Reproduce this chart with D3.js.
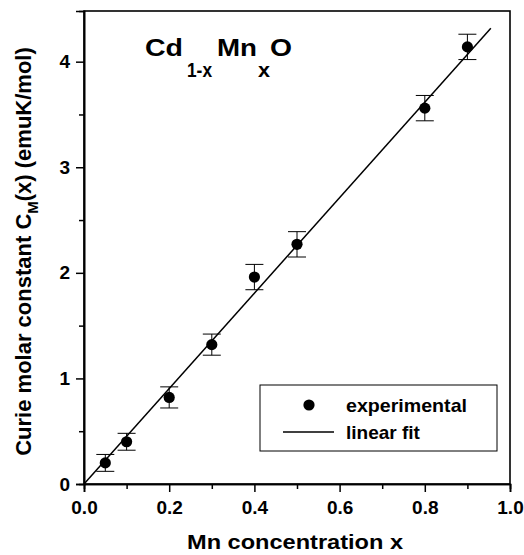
<!DOCTYPE html>
<html>
<head>
<meta charset="utf-8">
<script src="https://cdn.jsdelivr.net/npm/d3@7"></script>
<style>
  body { margin: 0; background: #fff; }
  text { font-family: "Liberation Sans", Arial, sans-serif; font-weight: bold; fill: #000; }
</style>
</head>
<body>
<div id="chart"></div>
<script>
// data
const xVals = [0.05, 0.1, 0.2, 0.3, 0.4, 0.5, 0.8, 0.9];
const cmVals = [0.20, 0.40, 0.82, 1.32, 1.96, 2.27, 3.56, 4.14];
const cmErr = [0.08, 0.08, 0.10, 0.10, 0.12, 0.12, 0.12, 0.12];
const fitX = [0, 0.955];
const fitSlope = 4.52;
const xTicks = [0, 0.2, 0.4, 0.6, 0.8, 1.0];
const yTicks = [0, 1, 2, 3, 4];

const W = 524, H = 555;
const margin = { top: 11, right: 14, bottom: 71, left: 84 };

const svg = d3.select("#chart").append("svg")
  .attr("width", W).attr("height", H);

const x = d3.scaleLinear().domain([0, 1]).range([margin.left, W - margin.right]);
const y = d3.scaleLinear().domain([0, 4.48]).range([H - margin.bottom, margin.top]);

const g = svg.append("g");

// frame
g.append("rect")
  .attr("x", x(0)).attr("y", y(4.48))
  .attr("width", x(1) - x(0)).attr("height", y(0) - y(4.48))
  .attr("fill", "none").attr("stroke", "#000").attr("stroke-width", 1.6);

// x axis
const xAxis = g.append("g").attr("transform", `translate(0,${y(0)})`);
xAxis.call(d3.axisBottom(x).tickValues(xTicks).tickFormat(d3.format(".1f")).tickSize(8).tickPadding(9));
xAxis.append("g").call(d3.axisBottom(x).tickValues(d3.range(0.1, 1, 0.2)).tickSize(5).tickFormat(""));
xAxis.selectAll(".domain").attr("stroke-width", 1.6);
xAxis.selectAll(".tick line").attr("stroke-width", 1.5);
xAxis.selectAll("text").style("font-size", "19px");

// y axis
const yAxis = g.append("g").attr("transform", `translate(${x(0)},0)`);
yAxis.call(d3.axisLeft(y).tickValues(yTicks).tickFormat(d3.format("d")).tickSize(8).tickPadding(6));
yAxis.append("g").call(d3.axisLeft(y).tickValues([0.5, 1.5, 2.5, 3.5]).tickSize(5).tickFormat(""));
yAxis.selectAll(".domain").attr("stroke-width", 1.6);
yAxis.selectAll(".tick line").attr("stroke-width", 1.5);
yAxis.selectAll("text").style("font-size", "19px");

// linear fit
const line = d3.line().x(d => x(d)).y(d => y(fitSlope * d));
g.append("path").datum(fitX)
  .attr("d", line).attr("fill", "none").attr("stroke", "#000").attr("stroke-width", 1.5);

// error bars
const pts = xVals.map((v, i) => ({ x: v, y: cmVals[i], e: cmErr[i] }));
const eb = g.selectAll(".err").data(pts).enter().append("g").attr("class", "err")
  .attr("stroke", "#000").attr("stroke-width", 1);
eb.append("line")
  .attr("x1", d => x(d.x)).attr("x2", d => x(d.x))
  .attr("y1", d => y(d.y - d.e)).attr("y2", d => y(d.y + d.e));
eb.append("line")
  .attr("x1", d => x(d.x) - 9).attr("x2", d => x(d.x) + 9)
  .attr("y1", d => y(d.y + d.e)).attr("y2", d => y(d.y + d.e));
eb.append("line")
  .attr("x1", d => x(d.x) - 9).attr("x2", d => x(d.x) + 9)
  .attr("y1", d => y(d.y - d.e)).attr("y2", d => y(d.y - d.e));

// points
g.selectAll(".pt").data(pts).enter().append("circle")
  .attr("cx", d => x(d.x)).attr("cy", d => y(d.y)).attr("r", 5.6).attr("fill", "#000");

// formula label, pieces placed like the original (wide lettering)
const formula = [
  { s: "Cd", x: 145, y: 56, size: 23, w: 38 },
  { s: "1-x", x: 187, y: 77, size: 20, w: 25 },
  { s: "Mn", x: 217, y: 56, size: 23, w: 40 },
  { s: "x", x: 258, y: 77, size: 20, w: 12 },
  { s: "O", x: 270, y: 56, size: 23, w: 22 }
];
svg.selectAll(".formula").data(formula).enter().append("text")
  .attr("class", "formula")
  .attr("x", d => d.x).attr("y", d => d.y)
  .attr("textLength", d => d.w).attr("lengthAdjust", "spacingAndGlyphs")
  .style("font-size", d => d.size + "px")
  .text(d => d.s);

// legend
const lg = svg.append("g");
lg.append("rect").attr("x", 260).attr("y", 385).attr("width", 237).attr("height", 66)
  .attr("fill", "#fff").attr("stroke", "#000").attr("stroke-width", 1);
lg.append("circle").attr("cx", 309).attr("cy", 405).attr("r", 5.6).attr("fill", "#000");
lg.append("text").attr("x", 346).attr("y", 412).style("font-size", "19px")
  .attr("textLength", 121).attr("lengthAdjust", "spacingAndGlyphs").text("experimental");
lg.append("line").attr("x1", 283).attr("x2", 334).attr("y1", 432).attr("y2", 432)
  .attr("stroke", "#000").attr("stroke-width", 1.5);
lg.append("text").attr("x", 346).attr("y", 439).style("font-size", "19px").text("linear fit");

// axis titles
svg.append("text").attr("x", 187).attr("y", 549)
  .attr("textLength", 216).attr("lengthAdjust", "spacingAndGlyphs")
  .style("font-size", "21px").text("Mn concentration x");

const yt = svg.append("text")
  .attr("transform", `translate(31,${(y(0) + y(4.48)) / 2 + 4}) rotate(-90)`)
  .attr("text-anchor", "middle").style("font-size", "22px");
yt.append("tspan").text("Curie molar constant C");
yt.append("tspan").attr("dy", 7).style("font-size", "15px").text("M");
yt.append("tspan").attr("dy", -7).text("(x) (emuK/mol)");
</script>
</body>
</html>
